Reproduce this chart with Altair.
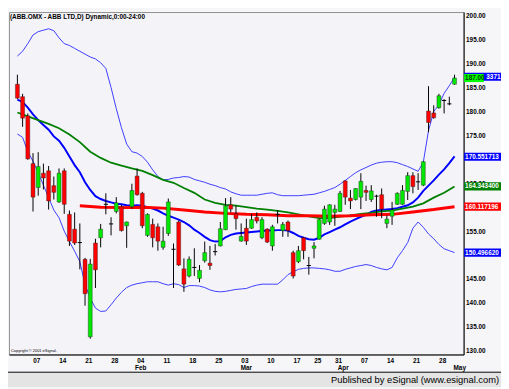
import altair as alt
import pandas as pd

# ---------------- data ----------------
idx = list(range(85))
opens = [185.7, 183.1, 179.1, 169.1, 164.1, 167.1, 167.6, 164.5, 161.1, 167.6,
         158.5, 155.4, 152.6, 149.1, 132.9, 152.5, 153.6, 160.6, 156.5, 159.1,
         160.1, 156.1, 160.1, 166.5, 162.9, 154.1, 156.4, 155.9, 151.6, 154.5,
         151.2, 156.9, 147.1, 145.6, 147.4, 145.1, 148.8, 148.3, 150.7, 151.9,
         155.3, 160.5, 158.6, 152.9, 155.6, 155.6, 157.9, 153.6, 155.4, 151.9,
         158.5, 155.1, 156.9, 150.5, 148.6, 153.6, 147.8, 151.4, 153.3, 156.6,
         156.9, 158.9, 159.1, 165.5, 161.9, 161.6, 162.1, 163.5, 161.6, 162.3,
         162.6, 156.6, 158.1, 160.6, 160.6, 163.3, 166.6, 165.3, 164.6, 180.1,
         179.7, 180.8, 182.3, 181.6, 185.7]
highs = [187.7, 183.7, 179.6, 171.3, 171.5, 169.1, 168.6, 166.4, 168.1, 168.1,
         159.3, 158.9, 156.6, 149.4, 149.2, 153.4, 156.5, 162.9, 157.9, 162.1,
         160.5, 157.0, 164.9, 168.1, 163.2, 158.7, 157.6, 156.6, 155.9, 161.8,
         152.4, 157.2, 149.3, 149.7, 151.4, 147.9, 152.8, 151.9, 152.3, 156.9,
         161.9, 162.1, 160.3, 156.6, 157.6, 158.6, 158.9, 157.9, 155.6, 156.3,
         159.4, 156.9, 157.2, 150.9, 151.9, 153.8, 149.6, 152.7, 157.6, 160.3,
         160.6, 160.5, 163.4, 165.6, 163.6, 164.0, 167.1, 164.5, 164.6, 162.6,
         163.9, 158.3, 161.1, 163.1, 164.6, 167.3, 167.3, 167.1, 169.6, 185.3,
         181.3, 183.7, 182.6, 183.1, 187.7]
lows = [182.6, 176.8, 169.9, 159.1, 162.4, 163.7, 159.5, 161.6, 160.9, 158.6,
        151.9, 152.1, 147.0, 139.4, 132.5, 143.1, 151.6, 158.5, 154.1, 158.7,
        154.9, 151.5, 159.7, 162.4, 155.6, 153.8, 151.6, 150.9, 151.1, 154.0,
        143.1, 147.7, 142.3, 145.3, 145.6, 144.3, 148.4, 146.9, 149.9, 151.8,
        155.2, 158.9, 155.3, 152.8, 152.1, 155.5, 156.6, 153.3, 152.5, 150.9,
        156.6, 153.8, 153.8, 145.1, 148.3, 149.1, 145.9, 149.3, 153.2, 156.3,
        156.3, 156.1, 159.0, 160.5, 159.6, 161.4, 159.6, 161.3, 161.1, 158.0,
        157.7, 155.6, 156.3, 160.5, 160.5, 161.5, 162.9, 163.6, 164.4, 175.7,
        178.5, 180.6, 179.6, 181.3, 185.6]
closes = [182.8, 178.6, 170.1, 162.1, 168.5, 166.1, 161.3, 163.1, 167.1, 160.6,
          152.9, 152.5, 152.6, 141.9, 148.1, 146.9, 155.4, 160.6, 156.5, 160.9,
          155.1, 156.9, 163.5, 162.6, 156.1, 158.5, 153.6, 152.9, 152.9, 161.1,
          151.2, 147.9, 143.9, 149.1, 147.4, 146.8, 150.5, 147.8, 150.7, 155.5,
          160.3, 159.6, 157.6, 153.9, 152.9, 157.4, 157.1, 157.4, 152.7, 155.9,
          158.5, 156.4, 155.1, 145.6, 150.9, 150.9, 147.8, 151.9, 157.4, 159.6,
          160.5, 159.6, 162.9, 162.1, 161.3, 163.9, 165.4, 163.1, 163.4, 162.3,
          159.6, 157.5, 159.4, 162.9, 163.5, 166.6, 164.3, 165.3, 169.5, 177.7,
          178.7, 183.3, 182.3, 181.6, 187.0]

upper_band = [191.6, 192.6, 194.2, 196.0, 196.7, 197.0, 197.3, 196.9, 195.4, 194.2,
              193.8, 193.2, 192.6, 192.0, 191.4, 191.0, 190.2, 189.0, 185.0, 180.6,
              176.6, 173.2, 171.6, 171.3, 170.6, 169.4, 167.8, 166.4, 165.7, 165.8,
              166.1, 166.2, 166.4, 166.3, 165.8, 165.5, 165.2, 164.8, 164.5, 164.1,
              163.8, 163.2, 162.8, 162.5, 162.5, 162.5, 162.5, 162.7, 162.9, 163.0,
              162.6, 162.4, 162.4, 162.4, 162.4, 162.5, 162.6, 162.7, 163.0, 163.3,
              163.7, 164.1, 164.8, 165.6, 166.4, 167.2, 167.8, 168.3, 168.8, 169.2,
              169.4, 169.5, 169.5, 169.3, 168.9, 168.5, 168.0, 167.5, 169.4, 176.0,
              180.0, 181.4, 183.8, 185.4, 187.2]
lower_band = [175.3, 174.6, 171.6, 169.6, 167.2, 164.6, 162.0, 159.4, 157.8, 155.0,
              152.8, 150.8, 148.6, 143.8, 141.0, 138.9, 138.2, 138.3, 139.6, 141.0,
              142.2, 143.2, 143.7, 144.0, 144.2, 144.4, 144.4, 144.4, 144.0, 143.7,
              144.0, 143.8, 143.2, 143.6, 143.6, 143.5, 143.2, 142.7, 142.4, 142.3,
              142.4, 142.6, 142.8, 142.9, 143.0, 143.4, 143.7, 143.9, 143.9, 143.9,
              143.9, 144.8, 145.9, 146.5, 147.0, 147.2, 147.3, 147.3, 147.2, 147.1,
              146.9, 146.6, 146.6, 147.0, 147.3, 147.6, 147.8, 148.0, 147.8, 147.4,
              147.1, 146.9, 147.4, 149.4, 150.9, 152.6, 155.6, 156.9, 155.8, 154.4,
              153.4, 152.2, 151.3, 150.9, 150.5]
ma_blue = [182.5, 182.0, 180.8, 179.4, 178.2, 177.2, 176.2, 174.8, 173.9, 172.4,
           170.6, 168.8, 167.3, 165.2, 163.6, 162.3, 161.7, 161.3, 161.0, 160.7,
           160.6, 160.4, 160.3, 160.4, 160.3, 160.0, 159.7, 159.3, 158.7, 158.2,
           157.8, 157.4, 156.9, 156.2, 155.3, 154.6, 153.8, 153.1, 152.8, 152.9,
           153.7, 154.2, 154.5, 154.6, 154.7, 154.8, 154.9, 155.0, 155.1, 155.1,
           155.2, 155.2, 155.1, 154.6, 154.0, 153.6, 153.3, 153.2, 153.6, 154.3,
           154.8, 155.3, 155.8, 156.4, 157.0, 157.5, 158.0, 158.4, 159.0, 159.3,
           159.4, 159.5, 159.6, 159.8, 160.1, 160.4, 161.0, 162.0, 163.4, 164.5,
           165.6, 166.8, 167.9, 169.2, 170.6]
ma_green_idx = list(range(0, 85, 2))
ma_green = [179.8, 179.0, 178.2, 177.4, 176.5, 175.2, 173.6, 171.6, 170.3, 169.3,
            168.7, 168.1, 167.6, 166.7, 165.7, 165.1, 164.0, 163.0, 161.6, 160.9,
            160.5, 160.3, 160.0, 159.7, 159.5, 159.2, 158.9, 158.5, 158.1, 157.7,
            157.7, 158.0, 158.3, 158.6, 158.8, 159.1, 159.3, 159.7, 160.1, 160.8,
            162.0, 163.0, 164.3]
ma_red_idx = list(range(12, 85, 4))
ma_red = [160.3, 160.0, 159.9, 160.0, 159.8, 159.4, 159.0, 158.7, 158.5, 158.4,
          158.2, 158.2, 158.1, 158.2, 158.4, 158.5, 159.0, 159.5, 160.1]

tick_idx = [4, 9, 14, 19, 24, 29, 34, 39, 44, 49, 54, 58, 62, 67, 72, 77, 82]
tick_lbl = ["07", "14", "21", "28", "04", "11", "18", "25", "03", "10", "17",
            "25", "31", "07", "14", "21", "28"]
month_idx = [23.7, 44, 62.6, 85]
month_lbl = ["Feb", "Mar", "Apr", "May"]
# price labels on the right axis (150, 160 and 170 sit fully under value tags)
price_ticks = [130, 135, 140, 145, 155, 165, 175, 180, 185, 190, 195, 200]

tag_val = [170.551713, 164.3434, 160.117196, 150.49662]
tag_txt = ["170.551713", "164.343400", "160.117196", "150.496620"]
tag_fill = ["#0000FF", "#008000", "#FF0000", "#0000FF"]
band_tag_val = 187.26
band_tag_txt = "3371"
close_tag = "187.00"

title_txt = "(ABB.OMX - ABB LTD,D) Dynamic,0:00-24:00"
footer_txt = "Published by eSignal (www.esignal.com)"
copy_txt = "Copyright \u00a9 2001 eSignal."

# ---------------- chart ----------------
W, H = 462, 348
FONT = "Liberation Sans"
xs = alt.Scale(domain=[-0.67, 84.8], nice=False, zero=False)
ys = alt.Scale(domain=[129.2, 200.8], nice=False, zero=False)

lbl_arr = "[" + ",".join("'%s'" % t for t in tick_lbl) + "]"
idx_arr = "[" + ",".join(str(t) for t in tick_idx) + "]"
xax = alt.Axis(values=tick_idx, labelExpr=f"{lbl_arr}[indexof({idx_arr}, datum.value)]",
               ticks=False, grid=False, domain=True, domainColor="black", domainWidth=1,
               labelFontSize=6.5, labelFontWeight="bold", labelColor="black",
               labelPadding=3, labelOffset=-2, labelOverlap=False, title=None, labelFont=FONT)
yax = alt.Axis(orient="right", values=price_ticks, format=".2f",
               ticks=False, grid=False, domain=True, domainColor="black", domainWidth=1,
               labelFontSize=6.5, labelFontWeight="bold", labelColor="black",
               labelPadding=2, labelOverlap=False, title=None, labelFont=FONT)

def X(f):
    return alt.X(f, type="quantitative", scale=xs, axis=xax)

def Y(f):
    return alt.Y(f, type="quantitative", scale=ys, axis=yax)

dirs = []
for o, c in zip(opens, closes):
    dirs.append("doji" if o == c else ("up" if c > o else "down"))
candles = pd.DataFrame({"idx": idx, "open": opens, "high": highs, "low": lows,
                        "close": closes, "dir": dirs})

lines = []
for name, xi, vals in [("upper", idx, upper_band), ("lower", idx, lower_band),
                       ("blue", idx, ma_blue), ("green", ma_green_idx, ma_green),
                       ("red", ma_red_idx, ma_red)]:
    lines.append(pd.DataFrame({"idx": xi, "value": vals, "series": name}))
styles = {"upper": ("#3C3CFF", 1), "lower": ("#3C3CFF", 1), "green": ("#008000", 1.8),
          "red": ("#FF0000", 3), "blue": ("#0000FF", 2)}

line_layers = []
for df in lines:
    name = df["series"].iloc[0]
    col, sw = styles[name]
    line_layers.append(alt.Chart(df).mark_line(color=col, strokeWidth=sw).encode(
        x=X("idx"), y=Y("value")))

wicks = alt.Chart(candles).mark_rule(color="black", strokeWidth=1).encode(
    x=X("idx"), y=Y("low"), y2="high")
bodies = alt.Chart(candles).transform_filter("datum.dir != 'doji'").mark_bar(
    size=4, stroke="#202020", strokeWidth=0.4).encode(
    x=X("idx"), y=Y("open"), y2="close",
    color=alt.Color("dir:N", scale=alt.Scale(domain=["up", "down"],
                                            range=["#00E800", "#FF0000"]), legend=None))
dojis = alt.Chart(candles).transform_filter("datum.dir == 'doji'").transform_calculate(
    xl="datum.idx - 0.4", xr="datum.idx + 0.4").mark_rule(color="black", strokeWidth=1).encode(
    x=X("xl"), x2="xr", y=Y("close"))

months = alt.Chart(pd.DataFrame({"idx": month_idx, "m": month_lbl})).mark_text(
    font=FONT, fontSize=6.5, fontWeight="bold", color="black", baseline="middle").encode(
    x=X("idx"), y=alt.value(H + 14), text="m:N")

one = pd.DataFrame({"a": [0]})
title = alt.Chart(one).mark_text(font=FONT, fontSize=6.5, fontWeight="bold", color="black",
                                 align="left", baseline="middle").encode(
    x=alt.value(1), y=alt.value(5), text=alt.value(title_txt))
copyr = alt.Chart(one).mark_text(font=FONT, fontSize=4, color="black",
                                 align="left", baseline="middle").encode(
    x=alt.value(2), y=alt.value(H - 4), text=alt.value(copy_txt))
footer_bg = alt.Chart(one).mark_rect(fill="#E4E4E4").encode(
    x=alt.value(-1), x2=alt.value(W + 38), y=alt.value(H + 18), y2=alt.value(H + 33))
footer_line = alt.Chart(one).mark_rule(color="black", strokeWidth=1).encode(
    x=alt.value(-1), x2=alt.value(W + 38), y=alt.value(H + 18))
footer_text = alt.Chart(one).mark_text(font=FONT, fontSize=9.5, color="black",
                                       align="right", baseline="middle").encode(
    x=alt.value(W + 36), y=alt.value(H + 25.5), text=alt.value(footer_txt))

tags = pd.DataFrame({"p": tag_val, "t": tag_txt, "fill": tag_fill})
tag_rect = alt.Chart(tags).transform_calculate(
    pt="datum.p + 0.85", pb="datum.p - 0.85").mark_rect().encode(
    x=alt.value(W + 0.5), x2=alt.value(W + 38), y=Y("pt"), y2="pb",
    color=alt.Color("fill:N", scale=None))
tag_text = alt.Chart(tags).mark_text(font=FONT, fontSize=6.5, fontWeight="bold",
                                     color="white", align="left", baseline="middle").encode(
    x=alt.value(W + 1.5), y=Y("p"), text="t:N")

btag = pd.DataFrame({"p": [band_tag_val], "t": [band_tag_txt]})
btag_rect = alt.Chart(btag).transform_calculate(
    pt="datum.p + 0.85", pb="datum.p - 0.85").mark_rect(fill="#0000FF").encode(
    x=alt.value(W + 0.5), x2=alt.value(W + 38), y=Y("pt"), y2="pb")
btag_text = alt.Chart(btag).mark_text(font=FONT, fontSize=6.5, fontWeight="bold",
                                      color="white", align="right", baseline="middle").encode(
    x=alt.value(W + 37.5), y=Y("p"), text="t:N")

ctag = pd.DataFrame({"p": [closes[-1]], "t": [close_tag]})
ctag_rect = alt.Chart(ctag).transform_calculate(
    pt="datum.p + 0.85", pb="datum.p - 0.85").mark_rect(fill="#00FF00").encode(
    x=alt.value(W + 0.5), x2=alt.value(W + 20.5), y=Y("pt"), y2="pb")
ctag_text = alt.Chart(ctag).mark_text(font=FONT, fontSize=6.5, fontWeight="bold",
                                      color="#004000", align="left", baseline="middle").encode(
    x=alt.value(W + 1.5), y=Y("p"), text="t:N")

chart = alt.layer(
    footer_bg, footer_line, footer_text,
    *line_layers, wicks, bodies, dojis,
    months, title, copyr,
    tag_rect, tag_text, btag_rect, btag_text, ctag_rect, ctag_text
).properties(
    width=W, height=H,
    autosize=alt.AutoSizeParams(type="none"),
    padding={"left": 1, "top": 1, "right": 38, "bottom": 33},
    background="#F6F6F9",
).configure_view(stroke="#909090", strokeWidth=1, fill="#F4F3F8")

chart.save("out.html", embed_options={"renderer": "svg", "actions": False})
